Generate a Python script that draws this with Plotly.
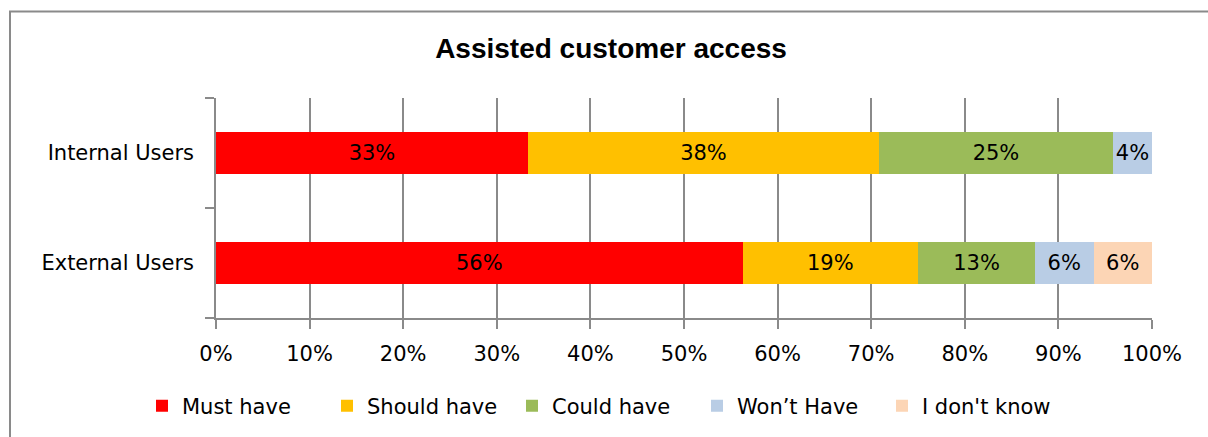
import plotly.graph_objects as go
from decimal import Decimal, ROUND_HALF_UP

# Survey categories (top row listed last so it appears on top)
groups = ["External Users", "Internal Users"]

# Share of responses per priority, in percent
series_names = ["Must have", "Should have", "Could have", "Won’t Have", "I don't know"]
must_have = [56.25, 33.33]
should_have = [18.75, 37.5]
could_have = [12.5, 25.0]
wont_have = [6.25, 4.17]
dont_know = [6.25, 0.0]

colors = ["#FF0000", "#FFC000", "#9BBB59", "#B9CDE5", "#FCD5B5"]
values = [must_have, should_have, could_have, wont_have, dont_know]

FONT = "DejaVu Sans"
GRID = "#8a8a8a"

W, H = 1208, 437
ML, MR, MT, MB = 216, 56, 98, 118
PW, PH = W - ML - MR, H - MT - MB


def px_x(p):
    return (p - ML) / PW


def px_y(p):
    return (H - MB - p) / PH


def pct_label(v):
    if v <= 0:
        return ""
    return f"{Decimal(str(v)).quantize(Decimal('1'), rounding=ROUND_HALF_UP)}%"


fig = go.Figure()
for name, vals, col in zip(series_names, values, colors):
    fig.add_trace(go.Bar(
        y=groups, x=vals, name=name, orientation="h",
        marker=dict(color=col, line=dict(width=0)),
        text=[pct_label(v) for v in vals],
        textposition="inside", insidetextanchor="middle",
        textangle=0, constraintext="none",
        textfont=dict(family=FONT, size=21, color="#000000"),
        hoverinfo="x+name",
    ))

fig.update_layout(
    width=W, height=H,
    margin=dict(l=ML, r=MR, t=MT, b=MB, pad=0),
    paper_bgcolor="white", plot_bgcolor="white",
    barmode="stack", bargap=0.62,
    font=dict(family=FONT, size=21, color="#000000"),
    title=dict(
        text="<b>Assisted customer access</b>",
        font=dict(family="Liberation Sans", size=28, color="#000000"),
        x=611 / W, y=(H - 48) / H, xref="container", yref="container",
        xanchor="center", yanchor="middle",
    ),
    xaxis=dict(
        range=[0, 100], dtick=10, tick0=0, ticksuffix="%",
        showgrid=True, gridcolor=GRID, gridwidth=1.5,
        showline=True, linecolor=GRID, linewidth=1.5,
        ticks="outside", ticklen=9, tickcolor=GRID, tickwidth=1.5,
        ticklabelstandoff=7,
        zeroline=False, fixedrange=True,
        tickfont=dict(family=FONT, size=21, color="#000000"),
    ),
    yaxis=dict(
        type="category", categoryorder="array", categoryarray=groups,
        range=[-0.5, 1.5], tickson="boundaries",
        showgrid=False, showline=True, linecolor=GRID, linewidth=1.5,
        ticks="outside", ticklen=9, tickcolor=GRID, tickwidth=1.5,
        ticklabelstandoff=16, zeroline=False, fixedrange=True,
        tickfont=dict(family=FONT, size=21, color="#000000"),
    ),
    legend=dict(
        orientation="h", x=px_x(142), y=px_y(406),
        xanchor="left", yanchor="middle",
        entrywidth=140, entrywidthmode="pixels",
        font=dict(family=FONT, size=21, color="#000000"),
        bgcolor="rgba(0,0,0,0)", traceorder="normal",
    ),
    shapes=[dict(
        type="rect", xref="paper", yref="paper",
        x0=px_x(10), x1=px_x(1230), y0=px_y(11), y1=px_y(460),
        line=dict(color="#8a8a8a", width=2), fillcolor="rgba(0,0,0,0)",
        layer="below",
    )],
    showlegend=True,
)

fig.write_html("out.html", config=dict(displayModeBar=False))
